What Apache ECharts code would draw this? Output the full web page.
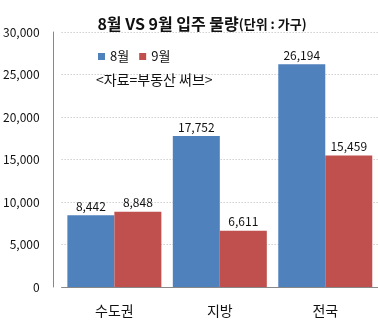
<!DOCTYPE html>
<html><head><meta charset="utf-8">
<script src="https://cdn.jsdelivr.net/npm/echarts@6/dist/echarts.min.js"></script>
<style>html,body{margin:0;padding:0;background:#fff}#c{width:378px;height:325px}</style>
</head><body><div id="c"></div>
<script>
const categories = ['수도권', '지방', '전국'];
const august = [8442, 17752, 26194];
const september = [8848, 6611, 15459];
const seriesNames = ['8월', '9월'];
const yTicks = { min: 0, max: 30000, interval: 5000 };

const FONT = "'Noto Sans CJK KR', 'Noto Sans', sans-serif";
const chart = echarts.init(document.getElementById('c'), null, { renderer: 'canvas' });
const labelCfg = {
  show: true, position: 'top', distance: 3, color: '#111', fontSize: 12, fontFamily: FONT,
  formatter: p => p.value.toLocaleString('en-US')
};
chart.setOption({
  animation: false,
  backgroundColor: '#fff',
  textStyle: { fontFamily: FONT },
  title: [
    { text: '{a|8월 VS 9월 입주 물량}{b|(단위 : 가구)}', left: 197, top: 11, textAlign: 'center',
      textStyle: { rich: {
        a: { fontSize: 16, fontWeight: 'bold', color: '#111', fontFamily: FONT },
        b: { fontSize: 13, fontWeight: 'bold', color: '#111', fontFamily: FONT }
      } } },
    { text: '<자료=부동산 써브>', left: 91, top: 68,
      textStyle: { fontSize: 14, fontWeight: 'normal', color: '#111', fontFamily: FONT } }
  ],
  legend: {
    data: seriesNames, left: 93, top: 45, icon: 'rect', itemWidth: 7, itemHeight: 7, itemGap: 10,
    textStyle: { fontSize: 13, color: '#111', fontFamily: FONT }
  },
  grid: { left: 61, right: 0, top: 32, bottom: 38, containLabel: false },
  xAxis: {
    type: 'category', data: categories,
    axisLine: { lineStyle: { color: '#888' } },
    axisTick: { show: false },
    axisLabel: { fontSize: 14, color: '#111', margin: 17, fontFamily: FONT }
  },
  yAxis: {
    type: 'value', min: yTicks.min, max: yTicks.max, interval: yTicks.interval, offset: 8,
    axisLine: { show: true, lineStyle: { color: '#888' } },
    axisTick: { show: false },
    axisLabel: { fontSize: 12, color: '#111', margin: 14, fontFamily: FONT,
      formatter: v => v.toLocaleString('en-US') },
    splitLine: { lineStyle: { color: '#b8b8b8', type: [1, 2] } }
  },
  series: [
    { name: seriesNames[0], type: 'bar', data: august, barWidth: 47, barGap: '0%',
      itemStyle: { color: '#4F81BD' }, label: labelCfg },
    { name: seriesNames[1], type: 'bar', data: september, barWidth: 47, barGap: '0%',
      itemStyle: { color: '#C0504D' }, label: labelCfg }
  ]
});
</script></body></html>
